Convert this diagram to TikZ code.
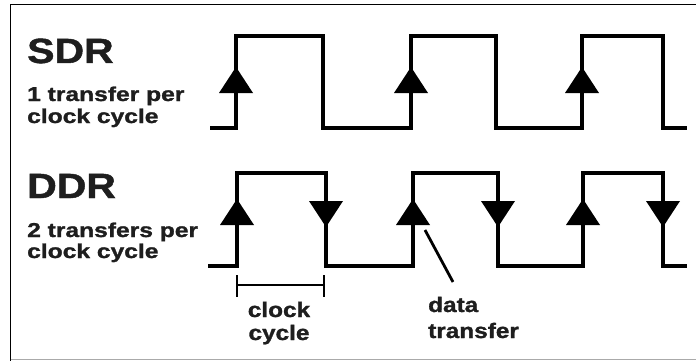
\documentclass[tikz,border=0pt]{standalone}
\usepackage{fontspec}
\setmainfont{Liberation Sans}[BoldFeatures={FakeBold=1.2}]
\usepackage{graphicx}
\definecolor{txt}{HTML}{1E1E1E}
\definecolor{frm}{HTML}{AAAAAA}
\begin{document}
\begin{tikzpicture}[x=1pt,y=-1pt,
  wave/.style={line width=3.2pt,line join=miter,black},
  frame/.style={line width=1.6pt,black},
  lbl/.style={inner sep=0pt,text=txt,font=\bfseries},
  big/.style={lbl,font=\fontsize{35}{35}\selectfont\bfseries},
  small/.style={lbl,font=\fontsize{20}{22}\selectfont\bfseries},
  note/.style={lbl,font=\fontsize{21}{23}\selectfont\bfseries},
  uptri/.pic={\fill[black] (0,0) -- (-17,26) -- (17,26) -- cycle;},
  dntri/.pic={\fill[black] (0,0) -- (-17,-26) -- (17,-26) -- cycle;}]
\useasboundingbox (0,0) rectangle (696,361);
\fill[white] (0,0) rectangle (696,361);
% frame
\draw[frame] (696,4.5) -- (10.5,4.5) -- (10.5,361);
\draw[frm,line width=1.2pt] (10.5,359.5) -- (696,359.5);
% labels
\node[big,anchor=base west] (sdr) at (27,63) {\scalebox{1.17}[1]{SDR}};
\node[small,anchor=base west] (sdr1) at (27,101) {\scalebox{1.23}[1]{1 transfer per}};
\node[small,anchor=base west] (sdr2) at (27,123) {\scalebox{1.23}[1]{clock cycle}};
\node[big,anchor=base west] (ddr) at (27,198) {\scalebox{1.17}[1]{DDR}};
\node[small,anchor=base west] (ddr1) at (27,237) {\scalebox{1.23}[1]{2 transfers per}};
\node[small,anchor=base west] (ddr2) at (27,258) {\scalebox{1.23}[1]{clock cycle}};
% SDR waveform
\draw[wave] (210,128) -- (236,128) -- (236,36) -- (323,36) -- (323,128)
  -- (411,128) -- (411,36) -- (496,36) -- (496,128)
  -- (582,128) -- (582,36) -- (663,36) -- (663,128) -- (687,128);
\pic at (236,67) {uptri};
\pic at (411,67) {uptri};
\pic at (582,67) {uptri};
% DDR waveform
\draw[wave] (208,266) -- (237,266) -- (237,173) -- (326,173) -- (326,266)
  -- (413,266) -- (413,173) -- (498,173) -- (498,266)
  -- (583,266) -- (583,173) -- (663,173) -- (663,266) -- (687,266);
\pic at (237,199) {uptri};
\pic at (413,199) {uptri};
\pic at (583,199) {uptri};
\pic at (326,227) {dntri};
\pic at (498,227) {dntri};
\pic at (663,227) {dntri};
% clock cycle bracket
\coordinate (cl) at (237,285);
\coordinate (cr) at (324,285);
\draw[line width=2.8pt] (cl) -- (cr);
\draw[line width=2.8pt] (237,275) -- (237,297);
\draw[line width=2.8pt] (324,275) -- (324,297);
\node[note,anchor=base] (clk) at (279,317) {\scalebox{1.16}[1]{clock}};
\node[note,anchor=base] (cyc) at (279,340) {\scalebox{1.16}[1]{cycle}};
% data transfer
\node[note,anchor=base west] (dat) at (428,312) {\scalebox{1.16}[1]{data}};
\node[note,anchor=base west] (trf) at (428,338) {\scalebox{1.16}[1]{transfer}};
\coordinate (dtp) at (425,230);
\coordinate (dte) at (453,282);
\draw[line width=2.8pt] (dtp) -- (dte);
\end{tikzpicture}
\end{document}
